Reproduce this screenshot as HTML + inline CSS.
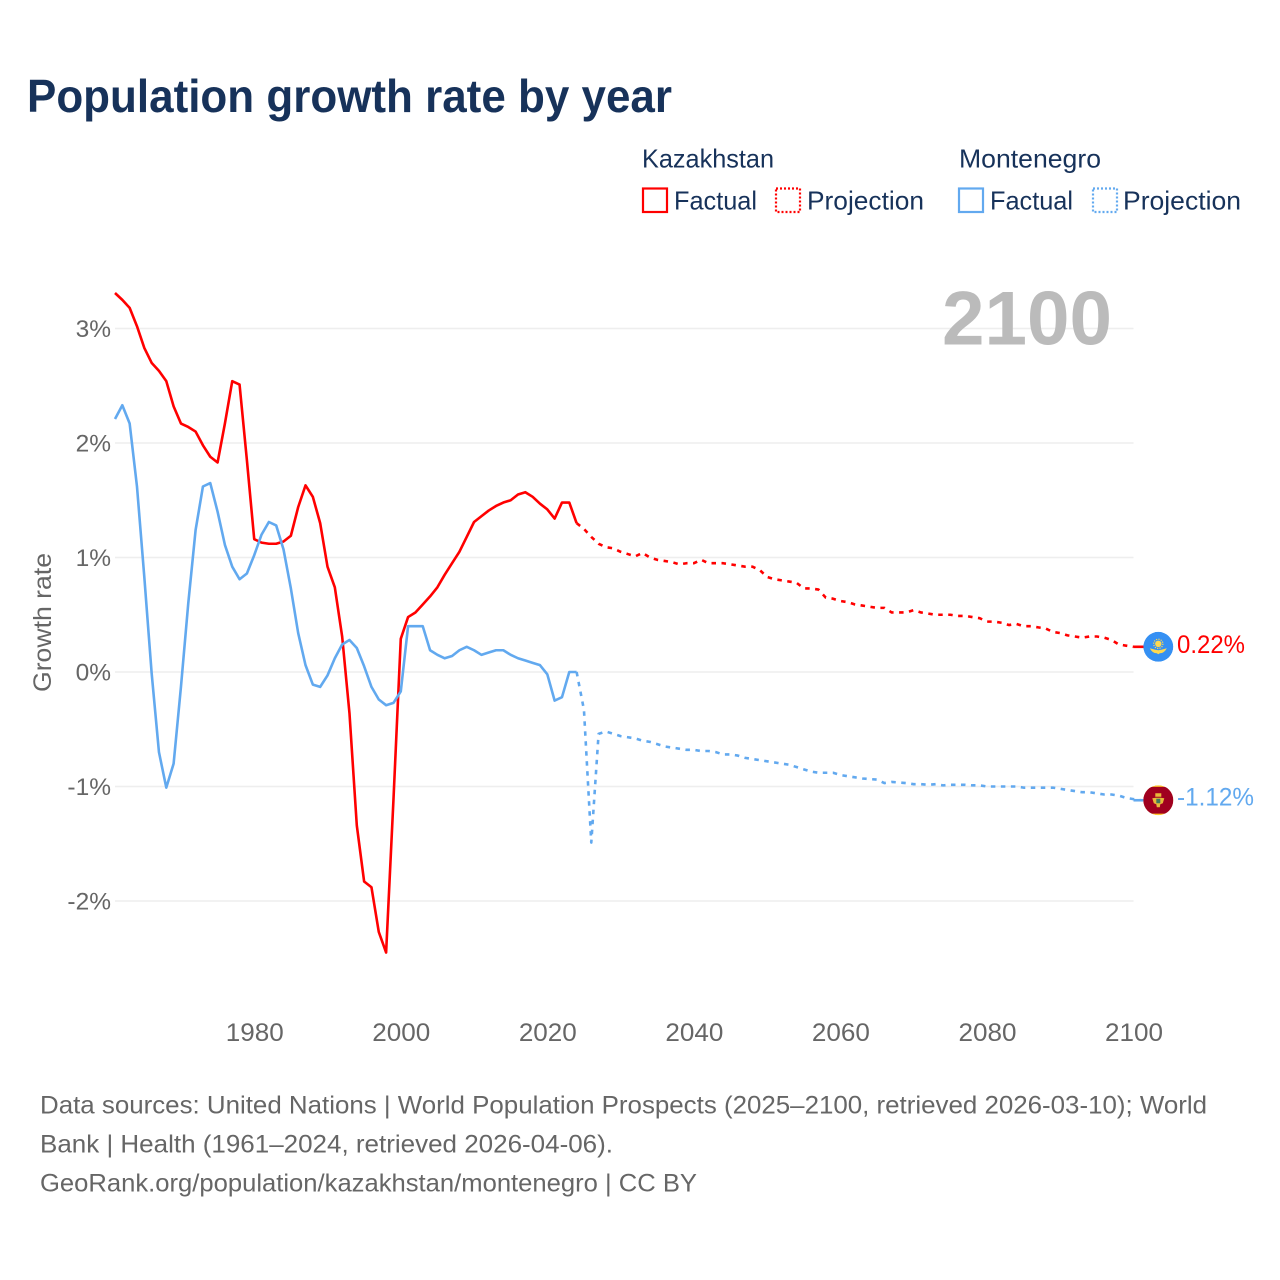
<!DOCTYPE html>
<html lang="en">
<head>
<meta charset="utf-8">
<title>Population growth rate by year</title>
<style>
html,body{margin:0;padding:0;background:#fff;}
body{width:1280px;height:1280px;overflow:hidden;}
svg{display:block;font-family:"Liberation Sans",sans-serif;}
</style>
</head>
<body>
<svg id="chart" xmlns="http://www.w3.org/2000/svg" width="1280" height="1280" viewBox="0 0 1280 1280">
  <rect x="0" y="0" width="1280" height="1280" fill="#ffffff"/>
  <text x="27" y="112" font-size="46" font-weight="700" fill="#17325a" textLength="645" lengthAdjust="spacingAndGlyphs">Population growth rate by year</text>

  <g font-size="26" fill="#17325a">
    <text x="642" y="167.5" textLength="132" lengthAdjust="spacingAndGlyphs">Kazakhstan</text>
    <text x="959" y="167.5" textLength="142" lengthAdjust="spacingAndGlyphs">Montenegro</text>
    <rect x="643" y="188.5" width="24" height="23.5" fill="none" stroke="#ff0000" stroke-width="2.2"/>
    <text x="674" y="209.5" textLength="83" lengthAdjust="spacingAndGlyphs">Factual</text>
    <rect x="776" y="188.5" width="24" height="23.5" fill="none" stroke="#ff0000" stroke-width="2.2" stroke-dasharray="2 2"/>
    <text x="807" y="209.5" textLength="117" lengthAdjust="spacingAndGlyphs">Projection</text>
    <rect x="959" y="188.5" width="24" height="23.5" fill="none" stroke="#62a9ef" stroke-width="2.2"/>
    <text x="990" y="209.5" textLength="83" lengthAdjust="spacingAndGlyphs">Factual</text>
    <rect x="1093" y="188.5" width="24" height="23.5" fill="none" stroke="#62a9ef" stroke-width="2.2" stroke-dasharray="2 2"/>
    <text x="1123" y="209.5" textLength="118" lengthAdjust="spacingAndGlyphs">Projection</text>
  </g>

  <g id="grid"></g>
  <text x="942" y="344.5" font-size="76" font-weight="700" fill="#bbbbbb" textLength="170" lengthAdjust="spacingAndGlyphs">2100</text>
  <g id="yticks" font-size="24.5" fill="#666666" text-anchor="end"></g>
  <g id="xticks" font-size="25" fill="#666666" text-anchor="middle"></g>
  <text transform="translate(51,692) rotate(-90)" font-size="25" fill="#666666" textLength="139" lengthAdjust="spacingAndGlyphs">Growth rate</text>
  <g id="series" fill="none" stroke-width="2.6" stroke-linejoin="round"></g>

  <defs>
    <clipPath id="flag-clip"><circle cx="0" cy="0" r="15"/></clipPath>
  </defs>

  <g id="flag-kz">
    <g clip-path="url(#flag-clip)">
      <circle cx="0" cy="0" r="15" fill="#3590f3"/>
      <circle cx="0" cy="-3" r="3.2" fill="#ffd950"/>
      <circle cx="0" cy="-3" r="4.6" fill="none" stroke="#ffd950" stroke-width="1.2" stroke-dasharray="1.2 1.2"/>
      <path d="M-8.5 1.5 Q-5 2.5 -3 3 L0 3.5 L3 3 Q5 2.5 8.5 1.5 Q6 6.5 1.5 6.5 L0 7.5 L-1.5 6.5 Q-6 6.5 -8.5 1.5Z" fill="#ffd950"/>
    </g>
  </g>
  <g id="flag-me">
    <g clip-path="url(#flag-clip)">
      <circle cx="0" cy="0" r="15" fill="#ffc72c"/>
      <rect x="-15" y="-13.4" width="30" height="26.8" fill="#a0001f"/>
      <rect x="-3" y="-7" width="6" height="3.5" fill="#e8b93a"/>
      <path d="M-6 -2 L-2.5 -2.5 L2.5 -2.5 L6 -2 L4.5 3 L2 4 L1.5 7 L-1.5 7 L-2 4 L-4.5 3Z" fill="#e8b93a"/>
      <rect x="-2" y="-1.5" width="4" height="4.5" fill="#3f7a5e"/>
    </g>
  </g>

  <g id="endlabels" font-size="25"></g>

  <g font-size="25" fill="#666666">
    <text x="40" y="1113.5" textLength="1167" lengthAdjust="spacingAndGlyphs">Data sources: United Nations | World Population Prospects (2025–2100, retrieved 2026-03-10); World</text>
    <text x="40" y="1152.5" textLength="573" lengthAdjust="spacingAndGlyphs">Bank | Health (1961–2024, retrieved 2026-04-06).</text>
    <text x="40" y="1191.5" textLength="657" lengthAdjust="spacingAndGlyphs">GeoRank.org/population/kazakhstan/montenegro | CC BY</text>
  </g>
</svg>

<script>
const firstFactualYear = 1961;
const firstProjectionYear = 2024;
const lastYear = 2100;
const xTickLabels = [1980, 2000, 2020, 2040, 2060, 2080, 2100];
const yTickLabels = [3, 2, 1, 0, -1, -2];

const kazakhstanFactual = [
  3.31,3.25,3.18,3.02,2.83,2.70,2.63,2.54,2.32,2.17,
  2.14,2.10,1.98,1.88,1.83,2.17,2.54,2.51,1.85,1.16,
  1.13,1.12,1.12,1.14,1.19,1.44,1.63,1.53,1.30,0.92,
  0.74,0.31,-0.36,-1.34,-1.83,-1.88,-2.27,-2.45,-1.12,0.29,
  0.48,0.52,0.59,0.66,0.74,0.85,0.95,1.05,1.18,1.31,
  1.36,1.41,1.45,1.48,1.50,1.55,1.57,1.53,1.47,1.42,
  1.34,1.48,1.48,1.30
];
const kazakhstanProjection = [
  1.30,1.25,1.18,1.12,1.09,1.08,1.05,1.03,1.01,1.04,
  1.00,0.98,0.97,0.96,0.94,0.95,0.95,0.98,0.95,0.95,
  0.95,0.94,0.93,0.92,0.92,0.89,0.83,0.81,0.80,0.79,
  0.78,0.73,0.73,0.72,0.65,0.64,0.62,0.61,0.59,0.58,
  0.57,0.56,0.56,0.52,0.52,0.52,0.54,0.52,0.51,0.50,
  0.50,0.50,0.49,0.49,0.48,0.47,0.44,0.44,0.43,0.41,
  0.42,0.40,0.40,0.39,0.38,0.35,0.34,0.32,0.31,0.30,
  0.31,0.31,0.30,0.28,0.24,0.23,0.22
];
const montenegroFactual = [
  2.21,2.33,2.17,1.62,0.83,-0.01,-0.70,-1.01,-0.80,-0.13,
  0.60,1.24,1.62,1.65,1.40,1.11,0.92,0.81,0.86,1.02,
  1.20,1.31,1.28,1.07,0.73,0.34,0.06,-0.11,-0.13,-0.03,
  0.12,0.24,0.28,0.21,0.05,-0.13,-0.24,-0.29,-0.27,-0.17,
  0.40,0.40,0.40,0.19,0.15,0.12,0.14,0.19,0.22,0.19,
  0.15,0.17,0.19,0.19,0.15,0.12,0.10,0.08,0.06,-0.02,
  -0.25,-0.22,0.00,0.00
];
const montenegroProjection = [
  0.00,-0.33,-1.49,-0.54,-0.52,-0.54,-0.56,-0.57,-0.58,-0.60,
  -0.61,-0.63,-0.65,-0.66,-0.67,-0.68,-0.68,-0.69,-0.69,-0.70,
  -0.72,-0.72,-0.73,-0.75,-0.76,-0.77,-0.78,-0.79,-0.80,-0.81,
  -0.83,-0.85,-0.87,-0.88,-0.88,-0.88,-0.90,-0.91,-0.92,-0.93,
  -0.935,-0.94,-0.97,-0.96,-0.965,-0.97,-0.98,-0.98,-0.985,-0.98,
  -0.99,-0.985,-0.985,-0.985,-0.99,-0.99,-1.00,-1.00,-1.00,-1.00,
  -1.00,-1.01,-1.01,-1.01,-1.01,-1.01,-1.02,-1.03,-1.04,-1.05,
  -1.05,-1.06,-1.07,-1.07,-1.08,-1.10,-1.11,-1.12
];

const SVGNS = "http://www.w3.org/2000/svg";
function xScale(year) { return 115 + (year - 1961) * (1133.5 - 115) / (2100 - 1961); }
function yScale(v) { return 672 - v * 114.5; }
function make(tag, parent) {
  const el = document.createElementNS(SVGNS, tag);
  parent.appendChild(el);
  return el;
}
function linePath(values, startYear) {
  return values.map(function (v, i) {
    return (i ? "L" : "M") + xScale(startYear + i).toFixed(2) + " " + yScale(v).toFixed(2);
  }).join(" ");
}
function fmtPct(v) { return v.toFixed(2) + "%"; }

const gridGroup = document.getElementById("grid");
const yTickGroup = document.getElementById("yticks");
yTickLabels.forEach(function (t) {
  const g = make("line", gridGroup);
  
  
  g.setAttribute("x1", 115);
  g.setAttribute("x2", xScale(lastYear));
  g.setAttribute("y1", yScale(t));
  g.setAttribute("y2", yScale(t));
  g.setAttribute("stroke", "#eeeeee");
  g.setAttribute("stroke-width", "1.5");
  const lbl = make("text", yTickGroup);
  
  
  lbl.setAttribute("x", 111);
  lbl.setAttribute("y", yScale(t) + 8.5);
  lbl.textContent = t + "%";
});

const xTickGroup = document.getElementById("xticks");
xTickLabels.forEach(function (t) {
  const lbl = make("text", xTickGroup);
  
  
  lbl.setAttribute("x", xScale(t) + 0.5);
  lbl.setAttribute("y", 1041);
  lbl.setAttribute("textLength", 58);
  lbl.setAttribute("lengthAdjust", "spacingAndGlyphs");
  lbl.textContent = t;
});

const seriesGroup = document.getElementById("series");
const RED = "#ff0000";
const BLUE = "#62a9ef";
const DASH = "4.5 5.5";

const kzF = make("path", seriesGroup);


kzF.setAttribute("d", linePath(kazakhstanFactual, firstFactualYear));
kzF.setAttribute("stroke", RED);

const kzP = make("path", seriesGroup);


kzP.setAttribute("d", linePath(kazakhstanProjection, firstProjectionYear));
kzP.setAttribute("stroke", RED);
kzP.setAttribute("stroke-dasharray", DASH);

const meF = make("path", seriesGroup);


meF.setAttribute("d", linePath(montenegroFactual, firstFactualYear));
meF.setAttribute("stroke", BLUE);

const meP = make("path", seriesGroup);


meP.setAttribute("d", linePath(montenegroProjection, firstProjectionYear));
meP.setAttribute("stroke", BLUE);
meP.setAttribute("stroke-dasharray", DASH);

const kzLast = kazakhstanProjection[kazakhstanProjection.length - 1];
const meLast = montenegroProjection[montenegroProjection.length - 1];

const kzConn = make("line", seriesGroup);


kzConn.setAttribute("x1", xScale(lastYear));
kzConn.setAttribute("x2", xScale(lastYear) + 10);
kzConn.setAttribute("y1", yScale(kzLast));
kzConn.setAttribute("y2", yScale(kzLast));
kzConn.setAttribute("stroke", RED);

const meConn = make("line", seriesGroup);


meConn.setAttribute("x1", xScale(lastYear));
meConn.setAttribute("x2", xScale(lastYear) + 10);
meConn.setAttribute("y1", yScale(meLast));
meConn.setAttribute("y2", yScale(meLast));
meConn.setAttribute("stroke", BLUE);

document.getElementById("flag-kz").setAttribute("transform", "translate(1158.3," + yScale(kzLast).toFixed(2) + ")");
document.getElementById("flag-me").setAttribute("transform", "translate(1158.3," + yScale(meLast).toFixed(2) + ")");

const labelGroup = document.getElementById("endlabels");
const kzLabel = make("text", labelGroup);


kzLabel.setAttribute("x", 1177);
kzLabel.setAttribute("y", yScale(kzLast) + 6);
kzLabel.setAttribute("fill", RED);
kzLabel.setAttribute("textLength", 68);
kzLabel.setAttribute("lengthAdjust", "spacingAndGlyphs");
kzLabel.textContent = fmtPct(kzLast);

const meLabel = make("text", labelGroup);


meLabel.setAttribute("x", 1177);
meLabel.setAttribute("y", yScale(meLast) + 5.5);
meLabel.setAttribute("fill", BLUE);
meLabel.setAttribute("textLength", 77);
meLabel.setAttribute("lengthAdjust", "spacingAndGlyphs");
meLabel.textContent = fmtPct(meLast);
</script>
</body>
</html>
